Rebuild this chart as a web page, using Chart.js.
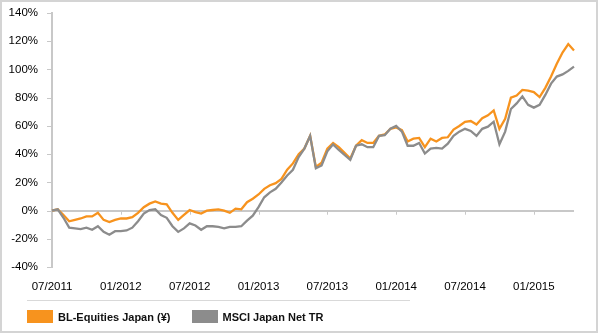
<!DOCTYPE html>
<html lang="en">
<head>
<meta charset="UTF-8">
<title>BL-Equities Japan vs MSCI Japan Net TR</title>
<script src="https://cdn.jsdelivr.net/npm/chart.js"></script>
<style>
    body {
        margin: 0;
        background: #fff;
        font-family: "Liberation Sans", Arial, sans-serif;
    }
    .wrap {
        position: relative;
        width: 600px;
        height: 334px;
    }
    .frame {
        position: absolute;
        left: 0;
        top: 0;
        width: 594px;
        height: 329px;
        border: 2px solid #d4d4d4;
        pointer-events: none;
    }
    canvas {
        position: absolute;
        left: 0;
        top: 0;
    }
    .legend {
        position: absolute;
        left: 27px;
        top: 300px;
        width: 383px;
        border-top: 1px solid #d9d9d9;
        padding-top: 9px;
        font-size: 11px;
        font-weight: bold;
        color: #111;
    }
    .item {
        display: inline-flex;
        align-items: center;
        margin-right: 18px;
    }
    .box {
        display: inline-block;
        width: 26px;
        height: 13px;
        margin-right: 5px;
    }
</style>
</head>
<body>
<div class="wrap">
    <canvas id="perfChart" width="600" height="334"></canvas>
    <div class="legend">
        <span class="item"><span class="box" style="background:#F7931E"></span>BL-Equities Japan (¥)</span>
        <span class="item"><span class="box" style="background:#8C8C8C"></span>MSCI Japan Net TR</span>
    </div>
    <div class="frame"></div>
</div>

<script>
    // half-monthly points, 07/2011 -> 05/2015, cumulative performance in %
    const tickLabels = ['07/2011', '01/2012', '07/2012', '01/2013', '07/2013', '01/2014', '07/2014', '01/2015'];

    const blEquities = [
        0, 1, -3, -7.5, -6.5, -5.5, -4, -4, -1.5, -6.5,
        -8, -6.5, -5.5, -5.5, -4.5, -1.5, 2.5, 5, 6.5, 5,
        4.5, -1.5, -6.5, -3, 0.5, -1, -2, 0, 0.5, 1,
        0, -1.5, 1.5, 1, 6, 8.5, 11.5, 15.5, 18, 19.5,
        22.5, 29, 33.5, 40, 44, 53, 31, 34, 44, 48,
        45, 41, 37, 46, 50, 48, 48, 53, 54, 58,
        59, 57, 49, 51, 51.5, 45, 51, 49, 51.5, 52,
        57.5, 60, 63, 63.5, 61, 65.5, 67.5, 71, 58, 65,
        80, 81.5, 85.5, 85, 84, 80.5, 87, 95, 104, 112,
        118, 113.5
    ];

    const msciJapan = [
        0, 1, -5, -12, -12.5, -13, -12, -13.5, -11, -15,
        -17, -14.5, -14.5, -14, -12, -7.5, -2, 0.5, 1, -3,
        -5, -11, -15, -12.5, -9, -10.5, -13.5, -11, -11, -11.5,
        -12.5, -11.5, -11.5, -11, -7, -3.5, 2.5, 9.5, 13, 15.5,
        20, 25, 29, 38, 44, 53, 30, 32, 42, 47,
        43, 39.5, 36, 46, 47, 45, 45, 53, 53.5, 58,
        60, 56, 46, 46, 48, 40.5, 44, 44.5, 44, 47.5,
        53, 56, 58, 56.5, 53, 58, 59.5, 63, 47, 56,
        72, 76, 81, 75, 73, 75, 82, 90, 95, 96.5,
        99, 102
    ];

    // category per half month
    const categories = [];
    for (let i = 0; i < blEquities.length; i++) {
        const m = 6 + Math.floor(i / 2);
        const year = 2011 + Math.floor(m / 12);
        const month = String((m % 12) + 1).padStart(2, '0');
        categories.push(month + '/' + year + (i % 2 ? ' (2)' : ''));
    }

    const axisGrey = '#c8c8c8';
    const font = { family: '"Liberation Sans", Arial, sans-serif', size: 11.5 };

    // short tick marks: left of the y axis, and hanging under the 0% line
    const axisMarks = {
        id: 'axisMarks',
        beforeDatasetsDraw(chart) {
            const x = chart.scales.x;
            const y = chart.scales.y;
            const y0 = y.getPixelForValue(0);
            const ctx = chart.ctx;
            ctx.save();
            ctx.strokeStyle = axisGrey;
            ctx.lineWidth = 1;
            for (let i = 12; i < categories.length; i += 12) {
                const px = Math.round(x.getPixelForValue(i)) + 0.5;
                ctx.beginPath();
                ctx.moveTo(px, y0);
                ctx.lineTo(px, y0 + 4);
                ctx.stroke();
            }
            y.ticks.forEach((t) => {
                const py = Math.round(y.getPixelForValue(t.value)) + 0.5;
                ctx.beginPath();
                ctx.moveTo(y.right - 5, py);
                ctx.lineTo(y.right, py);
                ctx.stroke();
            });
            ctx.restore();
        }
    };

    new Chart(document.getElementById('perfChart').getContext('2d'), {
        type: 'line',
        data: {
            labels: categories,
            datasets: [
                {
                    label: 'BL-Equities Japan (¥)',
                    data: blEquities,
                    borderColor: '#F7931E',
                    borderWidth: 2.3,
                    pointRadius: 0,
                    tension: 0,
                    order: 2
                },
                {
                    label: 'MSCI Japan Net TR',
                    data: msciJapan,
                    borderColor: '#8C8C8C',
                    borderWidth: 2.3,
                    pointRadius: 0,
                    tension: 0,
                    order: 1
                }
            ]
        },
        options: {
            responsive: false,
            animation: false,
            layout: { padding: { left: 0, right: 26, top: 13, bottom: 27 } },
            plugins: {
                legend: { display: false },
                tooltip: { enabled: false }
            },
            scales: {
                x: {
                    grid: { display: false, drawTicks: false },
                    border: { display: false },
                    ticks: {
                        autoSkip: false,
                        maxRotation: 0,
                        padding: 13,
                        color: '#000',
                        font: font,
                        callback: (v, i) => (i % 12 === 0 ? tickLabels[i / 12] : null)
                    }
                },
                y: {
                    min: -40,
                    max: 140,
                    afterFit: (scale) => { scale.width = 52; },
                    grid: {
                        color: (c) => (c.tick && c.tick.value === 0 ? axisGrey : 'transparent'),
                        lineWidth: 2,
                        tickColor: 'transparent',
                        tickLength: 12
                    },
                    border: { display: true, color: axisGrey, width: 2 },
                    ticks: {
                        stepSize: 20,
                        padding: 2,
                        color: '#000',
                        font: font,
                        callback: (v) => v + '%'
                    }
                }
            }
        },
        plugins: [axisMarks]
    });
</script>
</body>
</html>
